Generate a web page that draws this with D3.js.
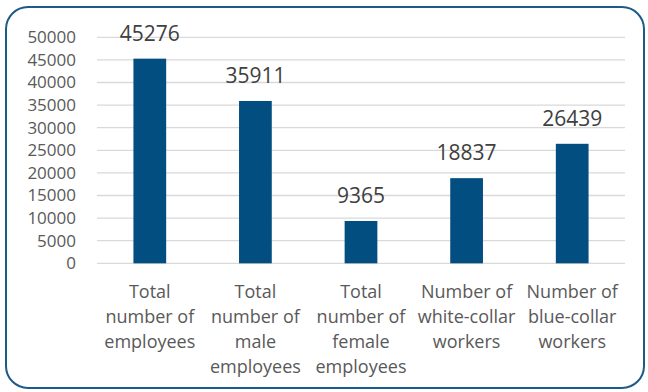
<!DOCTYPE html>
<html>
<head>
<meta charset="utf-8">
<script src="https://cdn.jsdelivr.net/npm/d3@7"></script>
<style>
  html, body { margin: 0; padding: 0; background: #fff; }
  svg { display: block; font-family: "Open Sans", "Noto Sans", sans-serif; }
</style>
</head>
<body>
<svg id="chart" width="648" height="392"></svg>
<script>
// Workforce breakdown
const categories = [
  ["Total", "number of", "employees"],
  ["Total", "number of", "male", "employees"],
  ["Total", "number of", "female", "employees"],
  ["Number of", "white-collar", "workers"],
  ["Number of", "blue-collar", "workers"]
];
const values = [45276, 35911, 9365, 18837, 26439];
const yTicks = [0, 5000, 10000, 15000, 20000, 25000, 30000, 35000, 40000, 45000, 50000];

const svg = d3.select("#chart");
const margin = { left: 97, right: 23, top: 37.3, bottom: 128.7 };
const W = 648, H = 392;

// Rounded frame
svg.append("rect")
  .attr("x", 6).attr("y", 7)
  .attr("width", 638).attr("height", 381)
  .attr("rx", 22).attr("ry", 22)
  .attr("fill", "#fff")
  .attr("stroke", "#1c5a88")
  .attr("stroke-width", 2);

const x = d3.scaleBand()
  .domain(d3.range(values.length))
  .range([margin.left, W - margin.right])
  .paddingInner(0.69)
  .paddingOuter(0.345);

const y = d3.scaleLinear()
  .domain([0, 50000])
  .range([H - margin.bottom, margin.top]);

// Gridlines
svg.append("g")
  .selectAll("line")
  .data(yTicks)
  .join("line")
  .attr("x1", margin.left).attr("x2", W - margin.right)
  .attr("y1", d => y(d)).attr("y2", d => y(d))
  .attr("stroke", "#d9d9d9")
  .attr("stroke-width", 1.3);

// Y axis labels
const yAxis = d3.axisLeft(y).tickValues(yTicks).tickSize(0).tickPadding(0).tickFormat(d3.format("d"));
const gy = svg.append("g")
  .attr("transform", `translate(${76},0)`)
  .call(yAxis);
gy.select(".domain").remove();
gy.selectAll("text")
  .attr("fill", "#595959")
  .attr("font-size", 17)
  .attr("font-family", "\"Open Sans\", \"Noto Sans\", sans-serif");

// Bars
svg.append("g")
  .selectAll("rect")
  .data(values)
  .join("rect")
  .attr("x", (d, i) => x(i))
  .attr("y", d => y(d))
  .attr("width", x.bandwidth())
  .attr("height", d => y(0) - y(d))
  .attr("fill", "#034e80");

// Value labels
svg.append("g")
  .selectAll("text")
  .data(values)
  .join("text")
  .attr("x", (d, i) => x(i) + x.bandwidth() / 2)
  .attr("y", d => y(d) - 18)
  .attr("text-anchor", "middle")
  .attr("fill", "#404040")
  .attr("font-size", 21)
  .text(d => d);

// Category labels
const cat = svg.append("g")
  .selectAll("text")
  .data(categories)
  .join("text")
  .attr("x", (d, i) => x(i) + x.bandwidth() / 2)
  .attr("y", 298)
  .attr("text-anchor", "middle")
  .attr("fill", "#595959")
  .attr("font-size", 18);
cat.each(function(lines) {
  const t = d3.select(this);
  const cx = t.attr("x");
  lines.forEach((ln, k) => {
    t.append("tspan").attr("x", cx).attr("dy", k === 0 ? 0 : 25).text(ln);
  });
});
</script>
</body>
</html>
